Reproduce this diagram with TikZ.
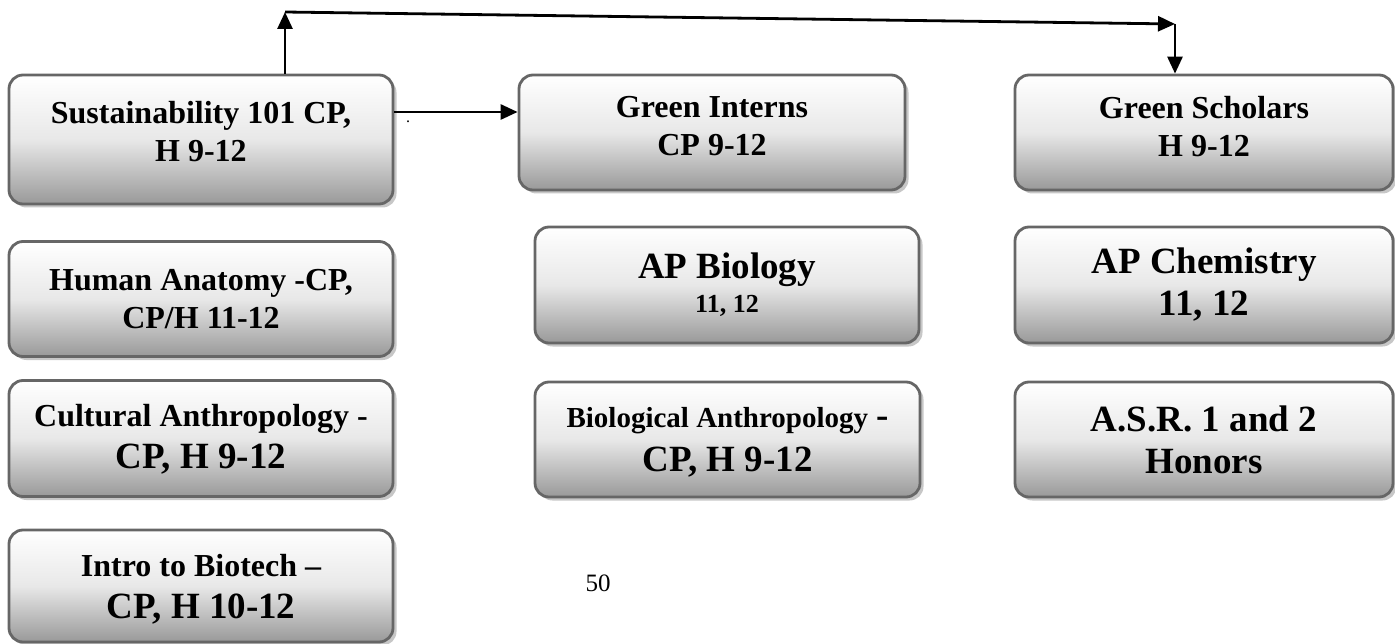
\documentclass[tikz,border=0pt]{standalone}
\usepackage{fontspec}
\setmainfont{Liberation Serif}
\usetikzlibrary{calc,positioning,shadows,arrows.meta}

\newcommand{\bigline}{\fontsize{37}{42}\selectfont}

\begin{document}
\begin{tikzpicture}[x=1pt,y=-1pt,
  course/.style={draw=black!60, line width=2.8pt, rounded corners=14pt,
    top color=white, bottom color=black!40, middle color=black!9,
    drop shadow={shadow xshift=3.5pt, shadow yshift=-3.5pt, fill=black!22, opacity=1},
    align=center, inner sep=0pt, font=\bfseries\fontsize{32}{38}\selectfont},
  dims/.style 2 args={minimum width=#1pt, minimum height=#2pt},
  link/.style={line width=2.8pt, -{Triangle[length=17pt,width=15pt]}}]
\useasboundingbox (0,0) rectangle (1395,644);

% left column
\node[course, dims={384}{129}, text depth=17pt] (sust) at (201,139.5) {Sustainability 101 CP,\\ H 9-12};
\node[course, dims={384}{115}] (anat) at (201,299) {Human Anatomy -CP,\\ CP/H 11-12};
\node[course, dims={384}{116}, text depth=4pt] (cult) at (201,438.5) {Cultural Anthropology -\\[4pt] {\bigline CP, H 9-12}};
\node[course, dims={384}{112}, text depth=0pt] (biotech) at (201,586) {Intro to Biotech \textendash\\[4pt] {\bigline CP, H 10-12}};

% middle column
\node[course, dims={386}{115}, text depth=13pt] (interns) at (712,132.5) {Green Interns\\ CP 9-12};
\node[course, dims={384}{116}] (apbio) at (727,285) {{\bigline AP Biology}\\[-4pt] {\fontsize{26}{30}\selectfont 11, 12}};
\node[course, dims={385}{115}, text depth=0pt] (bioanth) at (727.5,439.5) {{\fontsize{29}{34}\selectfont Biological Anthropology} {\bigline -}\\[6pt] {\bigline CP, H 9-12}};

% right column
\node[course, dims={378}{115}, text depth=13pt] (schol) at (1204,132.5) {Green Scholars\\ H 9-12};
\node[course, dims={378}{116}, font=\bfseries\bigline] (apchem) at (1204,285) {AP Chemistry\\ 11, 12};
\node[course, dims={378}{115}, font=\bfseries\bigline] (asr) at (1204,439.5) {A.S.R. 1 and 2\\ Honors};

\node (dot) at (408,122) {\fontsize{16}{18}\selectfont .};
\node (page) at (598,583) {\fontsize{25}{30}\selectfont 50};

% arrows
\coordinate (upleft) at (285,12);
\coordinate (upright) at (1175,24);
\draw[link] (sust.north -| upleft) -- (upleft);
\draw[link] (upleft) -- (upright);
\draw[link] (upright) -- (upright |- schol.north);
\draw[link] (sust.east |- 0,112) -- (interns.west |- 0,112);
\end{tikzpicture}
\end{document}
